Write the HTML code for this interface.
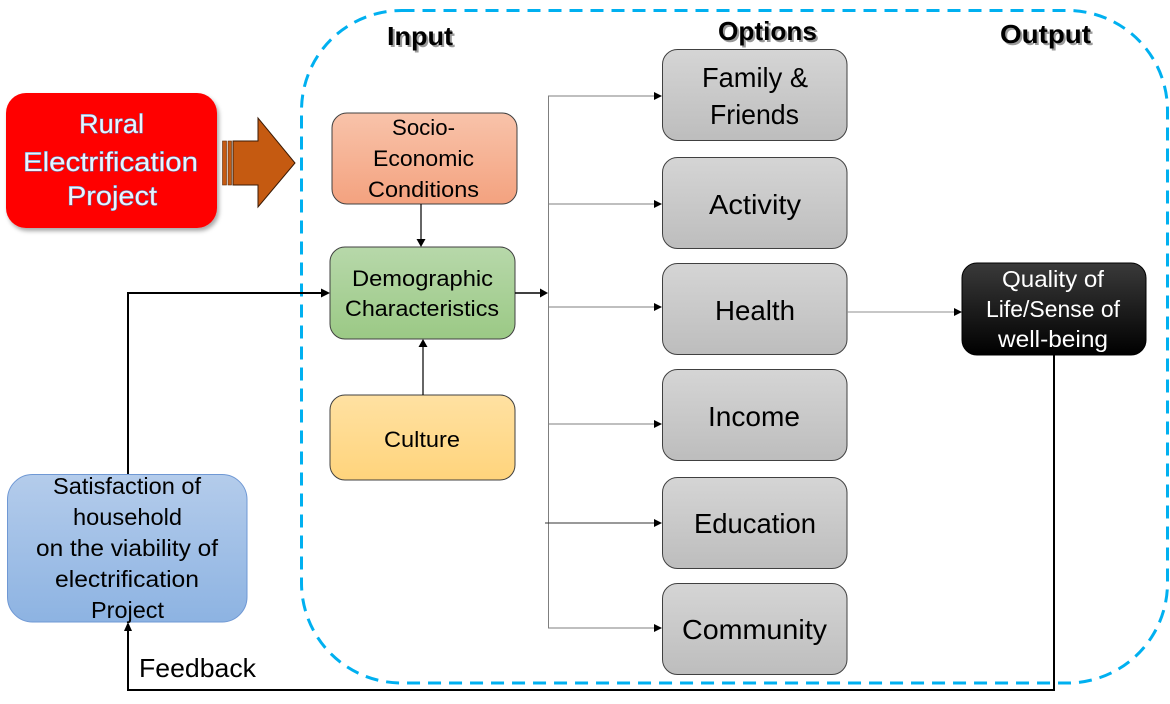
<!DOCTYPE html>
<html>
<head>
<meta charset="utf-8">
<style>
  html,body{margin:0;padding:0;background:#fff;}
  svg{display:block;}
  text{font-family:"Liberation Sans",sans-serif;}
</style>
</head>
<body>
<svg width="1170" height="704" viewBox="0 0 1170 704" xmlns="http://www.w3.org/2000/svg">
  <defs>
    <linearGradient id="gSalmon" x1="0" y1="0" x2="0" y2="1">
      <stop offset="0" stop-color="#f8c3aa"/><stop offset="1" stop-color="#f4a27f"/>
    </linearGradient>
    <linearGradient id="gGreen" x1="0" y1="0" x2="0" y2="1">
      <stop offset="0" stop-color="#b7d8aa"/><stop offset="1" stop-color="#9bc985"/>
    </linearGradient>
    <linearGradient id="gYellow" x1="0" y1="0" x2="0" y2="1">
      <stop offset="0" stop-color="#ffe1a2"/><stop offset="1" stop-color="#ffd47c"/>
    </linearGradient>
    <linearGradient id="gGray" x1="0" y1="0" x2="0" y2="1">
      <stop offset="0" stop-color="#d5d5d5"/><stop offset="1" stop-color="#bdbdbd"/>
    </linearGradient>
    <linearGradient id="gBlack" x1="0" y1="0" x2="0" y2="1">
      <stop offset="0" stop-color="#3a3a3a"/><stop offset="1" stop-color="#000"/>
    </linearGradient>
    <linearGradient id="gBlue" x1="0" y1="0" x2="0" y2="1">
      <stop offset="0" stop-color="#b4cceb"/><stop offset="1" stop-color="#8db3e2"/>
    </linearGradient>
    <filter id="sh" x="-10%" y="-10%" width="130%" height="130%">
      <feDropShadow dx="2" dy="3" stdDeviation="2" flood-color="#000" flood-opacity="0.35"/>
    </filter>
  </defs>

  <!-- dashed container -->
  <rect x="301.5" y="10.5" width="866" height="672.5" rx="100" ry="100" fill="none" stroke="#00b0f0" stroke-width="3" stroke-dasharray="13 8"/>

  <!-- headings with shadow -->
  <g font-weight="bold" font-size="26">
    <text x="389" y="47" fill="#9a9a9a" textLength="66" lengthAdjust="spacingAndGlyphs">Input</text>
    <text x="387" y="45" fill="#000" textLength="66" lengthAdjust="spacingAndGlyphs">Input</text>
    <text x="720" y="42" fill="#9a9a9a" textLength="99" lengthAdjust="spacingAndGlyphs">Options</text>
    <text x="718" y="40" fill="#000" textLength="99" lengthAdjust="spacingAndGlyphs">Options</text>
    <text x="1002" y="45" fill="#9a9a9a" textLength="91" lengthAdjust="spacingAndGlyphs">Output</text>
    <text x="1000" y="43" fill="#000" textLength="91" lengthAdjust="spacingAndGlyphs">Output</text>
  </g>

  <!-- Red box -->
  <rect x="6" y="93" width="211" height="135" rx="20" fill="#ff0000" filter="url(#sh)"/>
  <g font-size="27" fill="#eef3fb" stroke="#4f81bd" stroke-width="0.9" paint-order="stroke">
    <text x="79" y="133" textLength="65" lengthAdjust="spacingAndGlyphs">Rural</text>
    <text x="23" y="171" textLength="175" lengthAdjust="spacingAndGlyphs">Electrification</text>
    <text x="67" y="205" textLength="90" lengthAdjust="spacingAndGlyphs">Project</text>
  </g>

  <!-- Orange arrow -->
  <rect x="222.5" y="141" width="4" height="44" fill="#c55a11" stroke="#5a2a08" stroke-width="0.6"/>
  <rect x="228" y="141" width="3.5" height="44" fill="#c55a11" stroke="#5a2a08" stroke-width="0.6"/>
  <polygon points="233,141 258,141 258,118 295,163 258,207 258,185 233,185" fill="#c55a11" stroke="#3a1a05" stroke-width="1"/>

  <!-- Socio-Economic -->
  <rect x="332" y="113" width="185" height="91" rx="15" fill="url(#gSalmon)" stroke="#404040" stroke-width="1"/>
  <g font-size="22" fill="#000">
    <text x="392" y="135" textLength="63" lengthAdjust="spacingAndGlyphs">Socio-</text>
    <text x="373" y="166" textLength="101" lengthAdjust="spacingAndGlyphs">Economic</text>
    <text x="368" y="197" textLength="111" lengthAdjust="spacingAndGlyphs">Conditions</text>
  </g>

  <!-- Demographic -->
  <rect x="330" y="247" width="185" height="92" rx="15" fill="url(#gGreen)" stroke="#404040" stroke-width="1"/>
  <g font-size="22" fill="#000">
    <text x="352" y="286" textLength="141" lengthAdjust="spacingAndGlyphs">Demographic</text>
    <text x="345" y="316" textLength="154" lengthAdjust="spacingAndGlyphs">Characteristics</text>
  </g>

  <!-- Culture -->
  <rect x="330" y="395" width="185" height="85" rx="15" fill="url(#gYellow)" stroke="#404040" stroke-width="1"/>
  <text x="384" y="447" font-size="22" fill="#000" textLength="76" lengthAdjust="spacingAndGlyphs">Culture</text>

  <!-- vertical arrows in input column -->
  <line x1="421" y1="204" x2="421" y2="240" stroke="#000" stroke-width="1.2"/>
  <polygon points="416.5,239 425.5,239 421,247" fill="#000"/>
  <line x1="423" y1="395" x2="423" y2="346" stroke="#000" stroke-width="1.2"/>
  <polygon points="418.5,347 427.5,347 423,339" fill="#000"/>

  <!-- Demographic -> junction -->
  <line x1="515" y1="293" x2="541" y2="293" stroke="#000" stroke-width="1.4"/>
  <polygon points="540,288.5 540,297.5 548,293" fill="#000"/>

  <!-- junction vertical -->
  <line x1="548.5" y1="96" x2="548.5" y2="628.5" stroke="#7f7f7f" stroke-width="1"/>
  <!-- branches -->
  <g stroke="#7f7f7f" stroke-width="1">
    <line x1="548" y1="96" x2="655" y2="96"/>
    <line x1="548" y1="204" x2="655" y2="204"/>
    <line x1="548" y1="307" x2="655" y2="307"/>
    <line x1="548" y1="424" x2="655" y2="424"/>
    <line x1="545" y1="523" x2="655" y2="523" stroke="#333"/>
    <line x1="548" y1="628" x2="655" y2="628"/>
  </g>
  <g fill="#000">
    <polygon points="654,92 654,100 662,96"/>
    <polygon points="654,200 654,208 662,204"/>
    <polygon points="654,303 654,311 662,307"/>
    <polygon points="654,420 654,428 662,424"/>
    <polygon points="654,519 654,527 662,523"/>
    <polygon points="654,624 654,632 662,628"/>
  </g>

  <!-- Options boxes -->
  <g fill="url(#gGray)" stroke="#404040" stroke-width="1">
    <rect x="662.5" y="49.5" width="184.5" height="91" rx="15"/>
    <rect x="662.5" y="157.5" width="184.5" height="91" rx="15"/>
    <rect x="662.5" y="263.5" width="184.5" height="91" rx="15"/>
    <rect x="662.5" y="369.5" width="184.5" height="91" rx="15"/>
    <rect x="662.5" y="477.5" width="184.5" height="91" rx="15"/>
    <rect x="662.5" y="583.5" width="184.5" height="91" rx="15"/>
  </g>
  <g font-size="28" fill="#000">
    <text x="702" y="87" textLength="106" lengthAdjust="spacingAndGlyphs">Family &amp;</text>
    <text x="710" y="124" textLength="89" lengthAdjust="spacingAndGlyphs">Friends</text>
    <text x="709" y="214" textLength="92" lengthAdjust="spacingAndGlyphs">Activity</text>
    <text x="715" y="320" textLength="80" lengthAdjust="spacingAndGlyphs">Health</text>
    <text x="708" y="426" textLength="92" lengthAdjust="spacingAndGlyphs">Income</text>
    <text x="694" y="533" textLength="122" lengthAdjust="spacingAndGlyphs">Education</text>
    <text x="682" y="639" textLength="145" lengthAdjust="spacingAndGlyphs">Community</text>
  </g>

  <!-- Health -> Quality -->
  <line x1="847" y1="312" x2="955" y2="312" stroke="#8f8f8f" stroke-width="1"/>
  <polygon points="954,308 954,316 962,312" fill="#000"/>

  <!-- Quality box -->
  <rect x="962" y="263" width="184" height="92" rx="15" fill="url(#gBlack)" stroke="#000" stroke-width="1"/>
  <g font-size="23" fill="#fff">
    <text x="1002" y="287" textLength="102" lengthAdjust="spacingAndGlyphs">Quality of</text>
    <text x="986" y="317" textLength="134" lengthAdjust="spacingAndGlyphs">Life/Sense of</text>
    <text x="998" y="347" textLength="110" lengthAdjust="spacingAndGlyphs">well-being</text>
  </g>

  <!-- Feedback loop -->
  <polyline points="1054,355 1054,690 128,690 128,630" fill="none" stroke="#000" stroke-width="2"/>
  <polygon points="124,631 132,631 128,622" fill="#000"/>
  <polyline points="128,475 128,293 322,293" fill="none" stroke="#000" stroke-width="2"/>
  <polygon points="321,288.5 321,297.5 330,293" fill="#000"/>

  <!-- Satisfaction box -->
  <rect x="7.5" y="474.5" width="239.5" height="147.5" rx="25" fill="url(#gBlue)" stroke="#6f98d4" stroke-width="1"/>
  <g font-size="23" fill="#000">
    <text x="53" y="494" textLength="148" lengthAdjust="spacingAndGlyphs">Satisfaction of</text>
    <text x="73" y="525" textLength="109" lengthAdjust="spacingAndGlyphs">household</text>
    <text x="36" y="556" textLength="182" lengthAdjust="spacingAndGlyphs">on the viability of</text>
    <text x="55" y="587" textLength="144" lengthAdjust="spacingAndGlyphs">electrification</text>
    <text x="91" y="618" textLength="73" lengthAdjust="spacingAndGlyphs">Project</text>
  </g>

  <!-- Feedback label -->
  <text x="139" y="677" font-size="26" fill="#000" textLength="117" lengthAdjust="spacingAndGlyphs">Feedback</text>
</svg>
</body>
</html>
